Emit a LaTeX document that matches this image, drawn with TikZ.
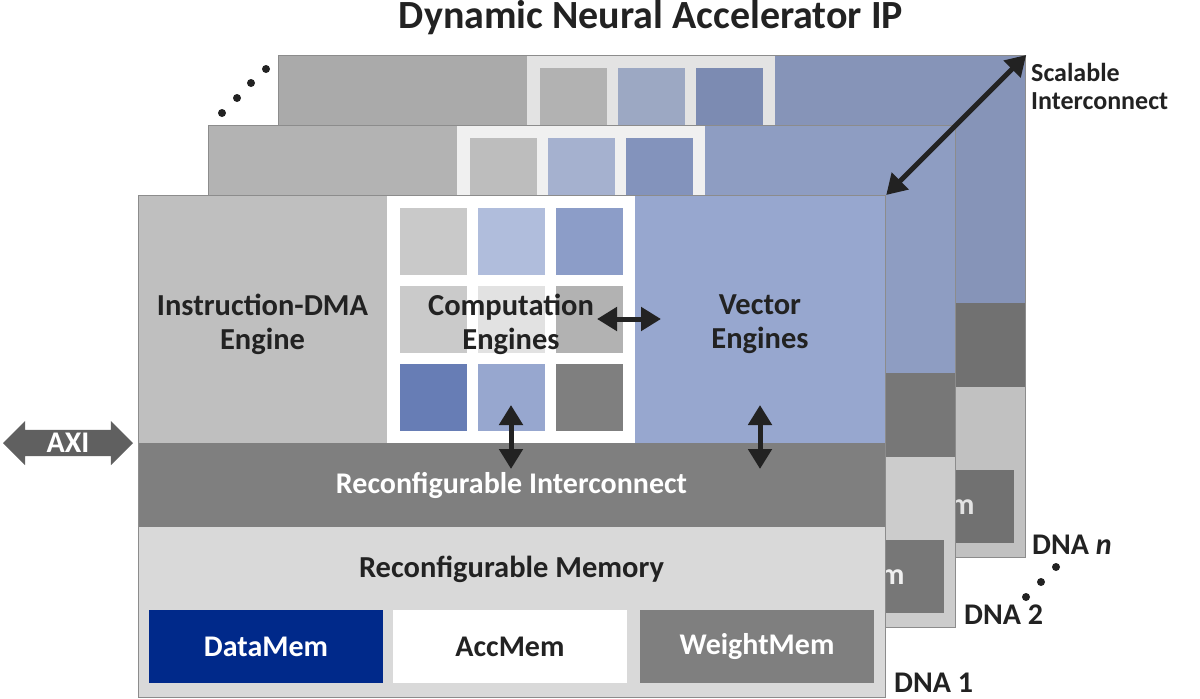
\documentclass[tikz,border=0pt]{standalone}
\usepackage{fontspec}
\setmainfont{Carlito}
\usetikzlibrary{positioning,arrows.meta,calc,shapes.arrows}
\definecolor{DmaGray}{RGB}{191,191,191}
\definecolor{VecBlue}{RGB}{151,167,207}
\definecolor{IcGray}{RGB}{127,127,127}
\definecolor{MemGray}{RGB}{217,217,217}
\definecolor{DataBlue}{RGB}{0,41,138}
\definecolor{EdgeGray}{RGB}{140,140,140}
\definecolor{InkDark}{RGB}{34,34,34}
\definecolor{AxiGray}{RGB}{96,96,96}
\definecolor{SqA}{RGB}{201,201,201}
\definecolor{SqB}{RGB}{176,189,220}
\definecolor{SqC}{RGB}{140,157,200}
\definecolor{SqD}{RGB}{202,202,202}
\definecolor{SqE}{RGB}{226,226,226}
\definecolor{SqF}{RGB}{178,178,178}
\definecolor{SqG}{RGB}{103,125,181}
\definecolor{SqH}{RGB}{151,167,207}
\definecolor{SqI}{RGB}{127,127,127}
\tikzset{
  block/.style={anchor=north west,inner sep=0pt,outer sep=0pt,align=center,
    text=InkDark,font=\fontsize{30}{34}\selectfont\bfseries},
  lbl/.style={inner sep=0pt,align=center,text=InkDark,
    font=\fontsize{30.5}{34}\selectfont\bfseries},
  membox/.style={block,minimum width=234,minimum height=73},
  frame/.style={anchor=north west,draw=EdgeGray,line width=1.2pt,inner sep=0pt,
    minimum width=747,minimum height=502},
  biarrow/.style={{Triangle[length=20pt,width=23pt]}-{Triangle[length=20pt,width=23pt]},
    line width=5pt,draw=InkDark},
  axiarrow/.style={double arrow,fill=AxiGray,text=white,inner xsep=2pt,inner ysep=4pt,
    minimum height=130,double arrow head extend=9pt,text height=18pt,text depth=0pt,
    font=\fontsize{30}{30}\selectfont\bfseries},
  sidelbl/.style={anchor=base west,inner sep=0pt,align=left,text=InkDark,text depth=0pt,
    font=\fontsize{30}{30}\selectfont\bfseries},
  pics/dnapanel/.style={code={
    \node[block,fill=DmaGray,minimum width=249,minimum height=248] (-dma) at (0,0) {};
    \node[block,fill=white,minimum width=248,minimum height=248] (-comp) at (249,0) {};
    \foreach \col/\row/\shade in {0/0/SqA,1/0/SqB,2/0/SqC,0/1/SqD,1/1/SqE,2/1/SqF,0/2/SqG,1/2/SqH,2/2/SqI}
      \fill[\shade] (262+78*\col,13+78*\row) rectangle ++(67,67);
    \node[block,fill=VecBlue,minimum width=250,minimum height=248] (-vec) at (497,0) {};
    \node[lbl] (-dmalab) at (124.5,129) {Instruction-DMA\\Engine};
    \node[lbl] (-complab) at (373,129) {Computation\\Engines};
    \node[lbl] (-veclab) at (622,129) {Vector\\Engines};
    \node[block,fill=IcGray,text=white,minimum width=747,minimum height=84] (-ic) at (0,248) {Reconfigurable Interconnect};
    \node[block,fill=MemGray,minimum width=747,minimum height=170] (-mem) at (0,332) {};
    \node[lbl] (-memlab) at (373.5,374) {Reconfigurable Memory};
    \node[membox,fill=DataBlue,text=white] (-data) at (11,415) {DataMem};
    \node[membox,fill=white] (-acc) at (255,415) {AccMem};
    \node[membox,fill=IcGray,text=white] (-weight) at (502,415) {WeightMem};
    \fill[black,opacity=#1] (0,0) rectangle (747,502);
    \node[frame] (-frame) at (0,0) {};
  }}
}

\begin{document}
\begin{tikzpicture}[x=1pt,y=-1pt]
  \useasboundingbox (0,0) rectangle (1200,699);

  \node[lbl,font=\fontsize{40}{42}\selectfont\bfseries] (title) at (651,18) {Dynamic Neural Accelerator IP};

  % stacked DNA cores, back to front
  \pic (pn) at (278,55) {dnapanel=0.11};
  \pic (p2) at (208,125) {dnapanel=0.06};
  \pic (f) at (138,195) {dnapanel=0};

  % arrows inside the front core
  \draw[biarrow] ([xshift=-38pt]f-comp.east) -- ([xshift=26pt]f-vec.west);
  \draw[biarrow] ([yshift=38pt]f-comp.south) -- ([yshift=-26pt]f-comp.south);
  \draw[biarrow] ([yshift=38pt]f-vec.south) -- ([yshift=-26pt]f-vec.south);
  \draw[biarrow] (f-frame.north east) -- (pn-frame.north east);

  \node[axiarrow] (axi) at (68,443) {AXI};

  \node[sidelbl,anchor=west,text depth=,font=\fontsize{26}{28}\selectfont\bfseries] (scal) at (1031,86) {Scalable\\Interconnect};
  \node[sidelbl] (dna1) at (894,692) {DNA 1};
  \node[sidelbl] (dna2) at (964,624) {DNA 2};
  \node[sidelbl] (dnan) at (1032,554) {DNA \textit{n}};

  \foreach \p in {(222,113),(237,98),(251,83),(266,69),(1026,597),(1041,582),(1056,567)}
    \fill[InkDark] \p circle[radius=4pt];
\end{tikzpicture}
\end{document}
